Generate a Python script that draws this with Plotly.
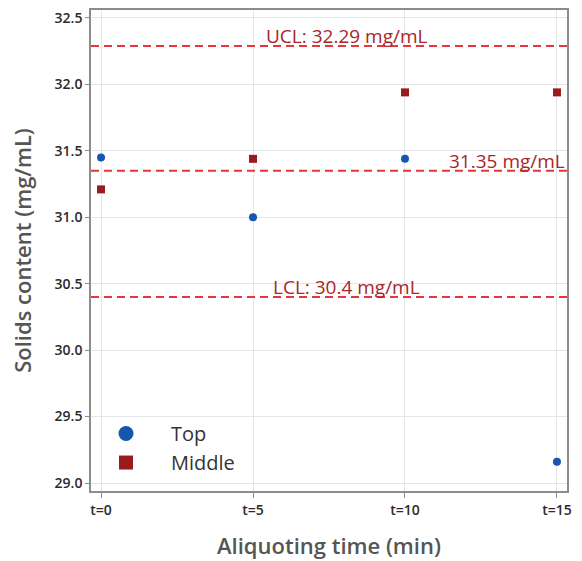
import plotly.graph_objects as go

categories = ["t=0", "t=5", "t=10", "t=15"]
times = [0, 5, 10, 15]
top_values = [31.45, 31.00, 31.44, 29.16]
middle_values = [31.21, 31.44, 31.94, 31.94]
ucl = 32.29
center = 31.35
lcl = 30.4
y_ticks = [29.0, 29.5, 30.0, 30.5, 31.0, 31.5, 32.0, 32.5]

FONT = "Open Sans"
TOP_COL = "#1557ad"
MID_COL = "#9a1b1e"
fig = go.Figure()
fig.add_trace(go.Scatter(x=times, y=top_values, mode="markers", name="Top", showlegend=False,
                         marker=dict(symbol="circle", size=8, color=TOP_COL)))
fig.add_trace(go.Scatter(x=times, y=middle_values, mode="markers", name="Middle", showlegend=False,
                         marker=dict(symbol="square", size=8, color=MID_COL)))
# legend entries with larger symbols
fig.add_trace(go.Scatter(x=[None], y=[None], mode="markers", name="Top",
                         marker=dict(symbol="circle", size=15, color=TOP_COL)))
fig.add_trace(go.Scatter(x=[None], y=[None], mode="markers", name="Middle",
                         marker=dict(symbol="square", size=14, color=MID_COL)))

for val in [ucl, center, lcl]:
    fig.add_hline(y=val, line=dict(color="#e8363a", width=2, dash="8px,5px"))

ann_col = "#a8262a"
fig.add_annotation(x=8.08, y=ucl, text=f"UCL: {ucl} mg/mL", showarrow=False,
                   yanchor="bottom", yshift=-5, font=dict(size=19, color=ann_col, family=FONT))
fig.add_annotation(x=1.0, xref="paper", y=center, text=f"{center} mg/mL", showarrow=False,
                   xanchor="right", yanchor="bottom", yshift=-5, font=dict(size=19, color=ann_col, family=FONT))
fig.add_annotation(x=8.08, y=lcl, text=f"LCL: {lcl} mg/mL", showarrow=False,
                   yanchor="bottom", yshift=-5, font=dict(size=19, color=ann_col, family=FONT))

fig.update_layout(
    width=582, height=561,
    margin=dict(l=91, r=15, t=10, b=70),
    paper_bgcolor="white", plot_bgcolor="white",
    font=dict(family=FONT, color="#333333"),
    showlegend=True,
    legend=dict(x=-0.021, y=0.16, xanchor="left", yanchor="top",
                bgcolor="rgba(0,0,0,0)", itemwidth=80,
                font=dict(size=20, color="#333333", family=FONT), tracegroupgap=0),
    xaxis=dict(range=[-0.33, 15.33], tickmode="array", tickvals=times, ticktext=categories,
               automargin=False,
               showgrid=True, gridcolor="#e6e6e6", gridwidth=1, zeroline=False,
               showline=True, linecolor="#8c8c8c", linewidth=1.5, mirror=True,
               ticks="outside", ticklen=5, tickcolor="#8c8c8c",
               tickfont=dict(size=14, color="#2b2b2b", weight=600),
               title=dict(text="Aliquoting time (min)", font=dict(size=22, color="#555555", weight=600), standoff=21)),
    yaxis=dict(range=[28.94, 32.56], tickmode="array", tickvals=y_ticks,
               ticktext=[f"{v:.1f}" for v in y_ticks],
               automargin=False,
               showgrid=True, gridcolor="#e6e6e6", gridwidth=1, zeroline=False,
               showline=True, linecolor="#8c8c8c", linewidth=1.5, mirror=True,
               ticks="outside", ticklen=4, tickcolor="#8c8c8c",
               tickfont=dict(size=14, color="#2b2b2b", weight=600),
               title=dict(text="Solids content (mg/mL)", font=dict(size=22, color="#555555", weight=600), standoff=17)),
)

fig.write_html("out.html")
